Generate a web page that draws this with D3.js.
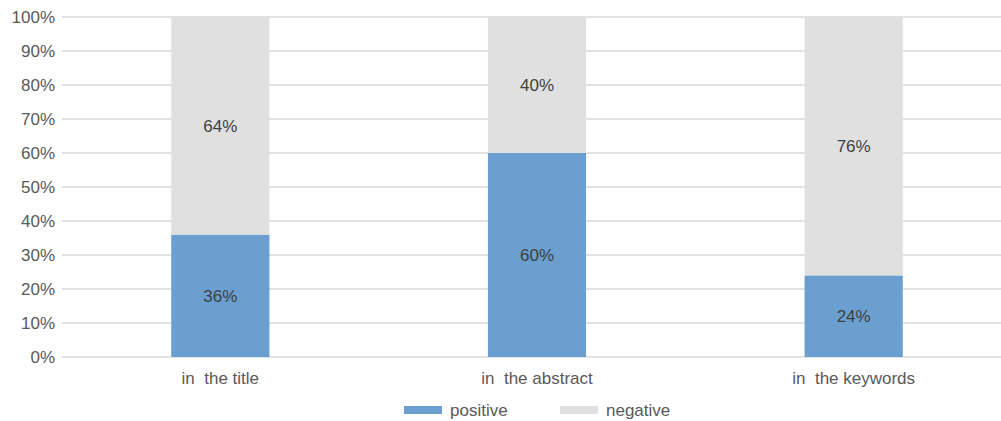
<!DOCTYPE html>
<html>
<head>
<meta charset="utf-8">
<script src="https://cdn.jsdelivr.net/npm/d3@7"></script>
<style>
  body { margin: 0; background: #fff; }
  svg { display: block; font-family: "Liberation Sans", Arial, sans-serif; }
</style>
</head>
<body>
<div id="chart"></div>
<script>
// Chart data
const categories = ['in the title', 'in the abstract', 'in the keywords'];
const positive = [36, 60, 24];
const negative = [64, 40, 76];
const seriesNames = ['positive', 'negative'];
const yTicks = [0, 10, 20, 30, 40, 50, 60, 70, 80, 90, 100];

const width = 1001, height = 421;
const colors = { positive: '#6a9fcf', negative: '#e0e0e0' };
const textColor = '#595959';
const fontSize = 17;

const svg = d3.select('#chart')
    .append('svg')
    .attr('width', width)
    .attr('height', height);

const x = d3.scaleBand()
    .domain(categories)
    .range([62, 1012])
    .paddingInner(0.69)
    .paddingOuter(0.345);

const y = d3.scaleLinear()
    .domain([0, 100])
    .range([357, 17]);

// Gridlines
svg.append('g')
    .selectAll('line')
    .data(yTicks)
    .join('line')
    .attr('x1', 62)
    .attr('x2', width)
    .attr('y1', d => y(d))
    .attr('y2', d => y(d))
    .attr('stroke', '#d9d9d9')
    .attr('stroke-width', 1.3);

// Y axis labels
svg.append('g')
    .selectAll('text')
    .data(yTicks)
    .join('text')
    .attr('x', 55)
    .attr('y', d => y(d))
    .attr('dy', '0.35em')
    .attr('text-anchor', 'end')
    .attr('fill', textColor)
    .attr('font-size', fontSize)
    .text(d => d + '%');

// Stacked bars
const rows = categories.map((c, i) => ({ cat: c, positive: positive[i], negative: negative[i] }));
const stacked = d3.stack().keys(seriesNames)(rows);

const layers = svg.append('g')
    .selectAll('g')
    .data(stacked)
    .join('g')
    .attr('fill', d => colors[d.key]);

layers.selectAll('rect')
    .data(d => d)
    .join('rect')
    .attr('x', d => x(d.data.cat))
    .attr('width', x.bandwidth())
    .attr('y', d => y(d[1]))
    .attr('height', d => y(d[0]) - y(d[1]));

// Value labels
layers.selectAll('text')
    .data(d => d)
    .join('text')
    .attr('x', d => x(d.data.cat) + x.bandwidth() / 2)
    .attr('y', d => (y(d[0]) + y(d[1])) / 2)
    .attr('dy', '0.35em')
    .attr('text-anchor', 'middle')
    .attr('fill', '#404040')
    .attr('font-size', fontSize)
    .text(d => (d[1] - d[0]) + '%');

// Category labels
svg.append('g')
    .selectAll('text')
    .data(categories)
    .join('text')
    .attr('x', d => x(d) + x.bandwidth() / 2)
    .attr('y', 378)
    .attr('dy', '0.35em')
    .attr('text-anchor', 'middle')
    .attr('fill', textColor)
    .attr('font-size', fontSize)
    .attr('xml:space', 'preserve')
    .text(d => d.replace('in ', 'in  '));

// Legend
const legendX = [404, 560];
const legend = svg.append('g')
    .selectAll('g')
    .data(seriesNames)
    .join('g')
    .attr('transform', (d, i) => `translate(${legendX[i]},410)`);

legend.append('rect')
    .attr('x', 0)
    .attr('y', -4)
    .attr('width', 38)
    .attr('height', 8)
    .attr('fill', d => colors[d]);

legend.append('text')
    .attr('x', 46)
    .attr('y', 0)
    .attr('dy', '0.35em')
    .attr('fill', textColor)
    .attr('font-size', fontSize)
    .text(d => d);
</script>
</body>
</html>
